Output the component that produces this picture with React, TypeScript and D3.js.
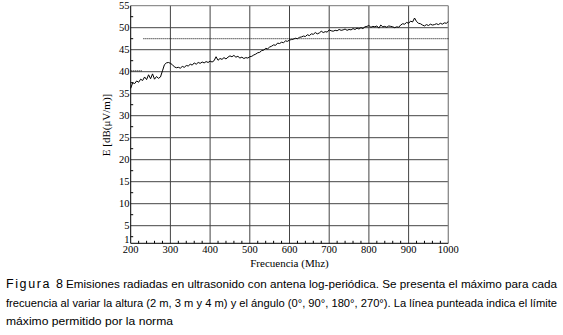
import React from "react";
import * as d3 from "d3";

const xTicks = [200, 300, 400, 500, 600, 700, 800, 900, 1000];
const yTicks = [1, 5, 10, 15, 20, 25, 30, 35, 40, 45, 50, 55];
const xGrid = [300, 400, 500, 600, 700, 800, 900];
const yGrid = [5, 10, 15, 20, 25, 30, 35, 40, 45, 50];

const freqStart = 200;
const freqStep = 5;
const emission = [
  36.2, 37.5, 37.3, 37.9, 37.6, 38.3, 38.0, 38.8, 38.2, 39.3,
  38.4, 39.5, 38.3, 38.9, 38.5, 38.8, 40.2, 41.6, 42.0, 42.1,
  41.9, 41.6, 41.1, 40.9, 41.0, 40.8, 41.2, 41.0, 41.4, 41.3,
  41.7, 41.5, 42.0, 41.7, 42.1, 41.9, 42.2, 42.0, 42.3, 42.1,
  42.4, 42.2, 42.5, 43.4, 42.6, 43.0, 42.8, 43.2, 42.9, 43.3,
  43.6, 43.4, 43.7, 43.3, 43.5, 43.1, 43.3, 43.0, 43.2, 43.1,
  43.4, 43.5, 43.8, 44.0, 44.3, 44.4, 44.8, 44.9, 45.3, 45.2,
  45.6, 45.8, 46.1, 46.0, 46.5, 46.4, 46.7, 46.6, 47.0, 46.9,
  47.2, 47.3, 47.4, 47.6, 47.5, 47.8, 47.9, 48.1, 48.0, 48.4,
  48.2, 48.6, 48.5, 48.9, 48.6, 48.8, 49.2, 48.9, 49.1, 49.0,
  49.5, 49.3, 49.2, 49.4, 49.3, 49.6, 49.4, 49.5, 49.7, 49.4,
  49.6, 49.5, 49.8, 49.6, 49.9, 49.7, 50.0, 49.8, 50.2, 50.3,
  50.5, 50.1, 50.3, 50.2, 50.4, 49.9, 50.6, 50.2, 50.3, 50.1,
  50.4, 50.3, 50.2, 50.0, 50.2, 50.1, 50.6, 50.9, 50.8, 51.2,
  51.0, 51.5, 51.3, 52.2, 51.4, 51.0, 50.9, 50.6, 50.4, 50.7,
  50.5, 50.8, 50.6, 50.7, 50.9, 50.7, 51.0, 50.8, 51.1, 51.0,
  51.4,
];

const limitLow = { from: 200, to: 230, value: 40.2 };
const limitHigh = { from: 232, to: 1000, value: 47.5 };

const captionTitle = "Figura 8";
const captionLines = [
  "Emisiones radiadas en ultrasonido con antena log-periódica. Se presenta el máximo para cada",
  "frecuencia al variar la altura (2 m, 3 m y 4 m) y el ángulo (0°, 90°, 180°, 270°). La línea punteada indica el límite",
  "máximo permitido por la norma",
];

export default function App() {
  const x = d3.scaleLinear().domain([200, 1000]).range([130.7, 448.3]);
  const y = d3.scaleLinear().domain([1, 55]).range([243.3, 5.7]);

  const pts: [number, number][] = emission.map((v, i) => [freqStart + i * freqStep, v]);
  const line = d3.line<[number, number]>().x((d) => x(d[0])).y((d) => y(d[1]));

  const minorX = d3.range(200, 1001, 20).filter((v) => v % 100 !== 0);
  const minorY = d3.range(2.5, 55, 5);

  const serif = "'Liberation Serif', 'Times New Roman', serif";
  const sans = "'Liberation Sans Narrow', 'Arial Narrow', 'Liberation Sans', Arial, sans-serif";

  return (
    <svg
      width={563}
      height={335}
      style={{ position: "absolute", left: 0, top: 0, background: "#fff" }}
    >
      <rect x={0} y={0} width={563} height={335} fill="#fff" />
      {xGrid.map((v) => (
        <line key={"gx" + v} x1={x(v)} x2={x(v)} y1={y(55)} y2={y(1)} stroke="#444" strokeWidth={1} />
      ))}
      {yGrid.map((v) => (
        <line key={"gy" + v} x1={x(200)} x2={x(1000)} y1={y(v)} y2={y(v)} stroke="#444" strokeWidth={1} />
      ))}
      <line x1={x(200)} x2={x(1000)} y1={y(55)} y2={y(55)} stroke="#777" />
      <line x1={x(1000)} x2={x(1000)} y1={y(55)} y2={y(1)} stroke="#888" strokeWidth={1.3} />
      <line x1={x(200)} x2={x(200)} y1={y(55)} y2={y(1)} stroke="#000" />
      <line x1={x(200)} x2={x(1000)} y1={y(1)} y2={y(1)} stroke="#000" />
      {minorX.map((v) => (
        <line key={"mx" + v} x1={x(v)} x2={x(v)} y1={y(1)} y2={y(1) - 2.5} stroke="#000" />
      ))}
      {minorY.map((v) => (
        <line key={"my" + v} x1={x(200)} x2={x(200) + 2.5} y1={y(v)} y2={y(v)} stroke="#000" />
      ))}
      {xTicks.map((v) => (
        <text key={"tx" + v} x={x(v)} y={252.5} textAnchor="middle" fontFamily={serif} fontSize={10.5} fill="#000">
          {v}
        </text>
      ))}
      {yTicks.map((v) => (
        <text
          key={"ty" + v}
          x={129.5}
          y={v === 1 ? y(v) - 0.8 : y(v) + 3.5}
          textAnchor="end"
          fontFamily={serif}
          fontSize={10.5}
          fill="#000"
        >
          {v}
        </text>
      ))}
      {[limitLow, limitHigh].map((s, i) => (
        <line
          key={"lim" + i}
          x1={x(s.from)}
          x2={x(s.to)}
          y1={y(s.value)}
          y2={y(s.value)}
          stroke="#000"
          strokeWidth={1}
          strokeDasharray="1,1"
        />
      ))}
      <path d={line(pts) || ""} fill="none" stroke="#000" strokeWidth={1} />
      <text x={289.5} y={267} textAnchor="middle" fontFamily={serif} fontSize={11} fill="#000">
        Frecuencia (Mhz)
      </text>
      <text
        transform={`translate(110, 125) rotate(-90)`}
        textAnchor="middle"
        fontFamily={serif}
        fontSize={11}
        fill="#000"
      >
        E [dB(μV/m)]
      </text>
      <text x={6} y={288} fontFamily="'Liberation Sans', Arial, sans-serif" fontSize={12.5} fill="#000" textLength={57} lengthAdjust="spacing">
        {captionTitle}
      </text>
      <text x={66} y={288} fontFamily={sans} fontSize={11} fill="#000" textLength={491} lengthAdjust="spacingAndGlyphs">
        {captionLines[0]}
      </text>
      <text x={6} y={306.5} fontFamily={sans} fontSize={11} fill="#000" textLength={551} lengthAdjust="spacingAndGlyphs">
        {captionLines[1]}
      </text>
      <text x={6} y={325} fontFamily={sans} fontSize={11} fill="#000" textLength={167} lengthAdjust="spacingAndGlyphs">
        {captionLines[2]}
      </text>
    </svg>
  );
}
